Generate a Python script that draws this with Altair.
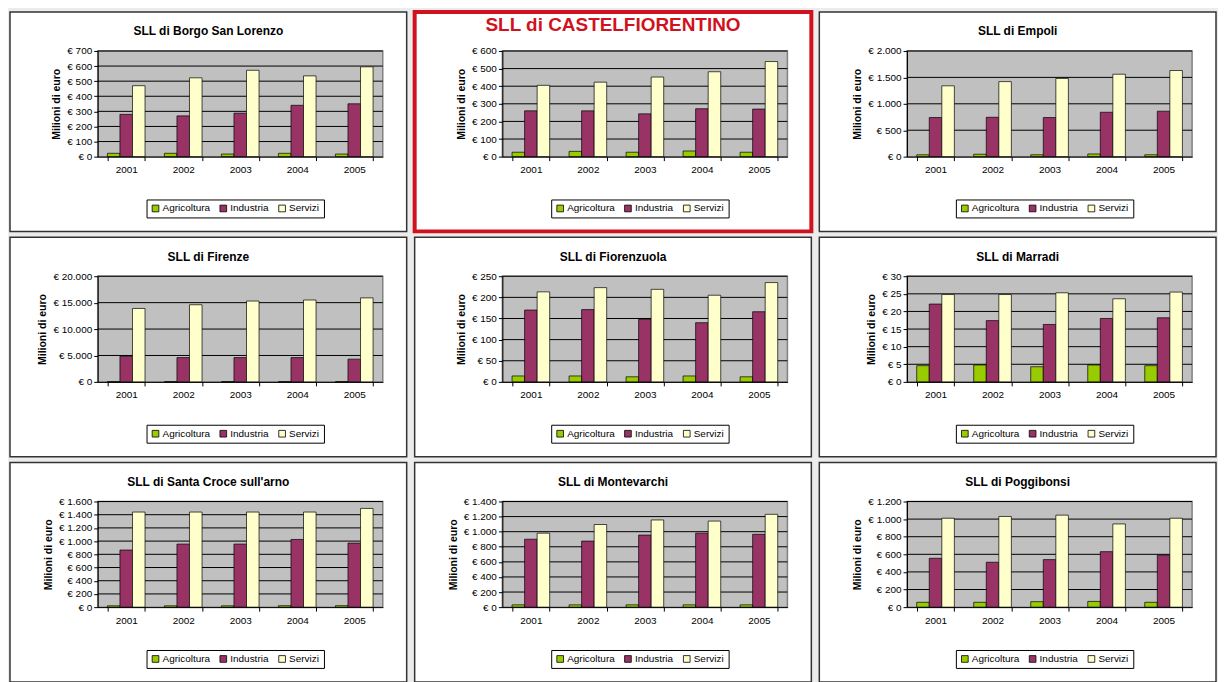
import altair as alt
import pandas as pd

years = ["2001", "2002", "2003", "2004", "2005"]
series = ["Agricoltura", "Industria", "Servizi"]
colors = ["#99cc00", "#993366", "#ffffcc"]

borgo_agri = [22, 22, 17, 22, 17]
borgo_ind = [280, 270, 288, 340, 350]
borgo_serv = [470, 522, 572, 535, 595]
borgo_ticks = [0, 100, 200, 300, 400, 500, 600, 700]

castel_agri = [25, 30, 25, 32, 25]
castel_ind = [260, 260, 243, 272, 270]
castel_serv = [405, 423, 452, 482, 540]
castel_ticks = [0, 100, 200, 300, 400, 500, 600]

empoli_agri = [35, 45, 35, 50, 35]
empoli_ind = [740, 745, 740, 840, 860]
empoli_serv = [1340, 1420, 1480, 1560, 1630]
empoli_ticks = [0, 500, 1000, 1500, 2000]

firenze_agri = [50, 50, 50, 50, 50]
firenze_ind = [4850, 4600, 4600, 4600, 4300]
firenze_serv = [13900, 14600, 15300, 15500, 15900]
firenze_ticks = [0, 5000, 10000, 15000, 20000]

fiorenzuola_agri = [14, 14, 12, 14, 12]
fiorenzuola_ind = [170, 171, 148, 140, 166]
fiorenzuola_serv = [213, 223, 219, 205, 235]
fiorenzuola_ticks = [0, 50, 100, 150, 200, 250]

marradi_agri = [4.6, 4.8, 4.3, 4.8, 4.6]
marradi_ind = [22.1, 17.4, 16.3, 18.0, 18.2]
marradi_serv = [24.8, 24.8, 25.3, 23.6, 25.5]
marradi_ticks = [0, 5, 10, 15, 20, 25, 30]

santacroce_agri = [20, 20, 20, 22, 22]
santacroce_ind = [865, 955, 955, 1025, 970]
santacroce_serv = [1440, 1440, 1440, 1440, 1495]
santacroce_ticks = [0, 200, 400, 600, 800, 1000, 1200, 1400, 1600]

montevarchi_agri = [30, 30, 30, 30, 30]
montevarchi_ind = [900, 875, 955, 980, 965]
montevarchi_serv = [980, 1095, 1155, 1140, 1230]
montevarchi_ticks = [0, 200, 400, 600, 800, 1000, 1200, 1400]

poggibonsi_agri = [55, 55, 62, 65, 55]
poggibonsi_ind = [555, 510, 540, 630, 590]
poggibonsi_serv = [1010, 1030, 1045, 945, 1010]
poggibonsi_ticks = [0, 200, 400, 600, 800, 1000, 1200]

titles = [
    "SLL di Borgo San Lorenzo", "SLL di CASTELFIORENTINO", "SLL di Empoli",
    "SLL di Firenze", "SLL di Fiorenzuola", "SLL di Marradi",
    "SLL di Santa Croce sull'arno", "SLL di  Montevarchi", "SLL di Poggibonsi",
]

FONT = "Liberation Sans, Arial, sans-serif"
W, H = 286, 106
L, R, T, B = 88, 24, 39, 75


def panel(title, agri, ind, serv, ticks, highlight=False):
    df = pd.DataFrame({
        "Anno": years * 3,
        "Settore": [s for s in series for _ in years],
        "Valore": agri + ind + serv,
    })
    tdf = pd.DataFrame({"v": ticks[1:]})
    one = pd.DataFrame({"k": [0]})
    yscale = alt.Scale(domain=[ticks[0], ticks[-1]], nice=False, zero=True)
    yaxis = alt.Axis(
        values=ticks, grid=False, zindex=1, domainColor="black", tickColor="black",
        tickSize=4, labelFont=FONT, labelFontSize=10, labelColor="black", labelPadding=2,
        labelExpr="'€ ' + replace(format(datum.value, ','), regexp(',', 'g'), '.')",
        title="Milioni di euro", titleFont=FONT, titleFontSize=10.5, titleFontWeight="bold",
        titleColor="black", titlePadding=5,
    )
    box = alt.Chart(one).mark_rect(
        fill="white",
        stroke="#d0121e" if highlight else "#333333",
        strokeWidth=4 if highlight else 1.5,
    ).encode(x=alt.value(-L), x2=alt.value(W + R), y=alt.value(-T), y2=alt.value(H + B))
    bg = alt.Chart(one).mark_rect(fill="#c0c0c0", stroke="#808080", strokeWidth=1.5).encode(
        x=alt.value(0), x2=alt.value(W), y=alt.value(0), y2=alt.value(H))
    grid = alt.Chart(tdf).mark_rule(color="black", strokeWidth=1).encode(
        y=alt.Y("v:Q", scale=yscale, axis=yaxis), x=alt.value(0), x2=alt.value(W))
    bars = alt.Chart(df).mark_bar(stroke="black", strokeWidth=0.7).encode(
        x=alt.X("Anno:N", sort=years, scale=alt.Scale(paddingInner=0.34, paddingOuter=0.17),
                axis=alt.Axis(title=None, labelAngle=0, tickBand="extent", zindex=1,
                              domainColor="black", tickColor="black", tickSize=4,
                              labelFont=FONT, labelFontSize=10, labelColor="black",
                              labelPadding=4)),
        xOffset=alt.XOffset("Settore:N", sort=series,
                            scale=alt.Scale(domain=series, paddingInner=0, paddingOuter=0)),
        y=alt.Y("Valore:Q", scale=yscale, axis=yaxis),
        color=alt.Color("Settore:N", scale=alt.Scale(domain=series, range=colors),
                        legend=alt.Legend(
                            orient="none", legendX=49, legendY=149, direction="horizontal",
                            title=None, strokeColor="black", fillColor="white", padding=4,
                            symbolType="square", symbolSize=45, symbolStrokeColor="black",
                            symbolStrokeWidth=0.8, symbolOpacity=1, labelFont=FONT,
                            labelFontSize=10, labelColor="black", columnPadding=8,
                            labelOffset=2)),
    )
    if highlight:
        tp = alt.TitleParams(text=title, font=FONT, fontSize=19, fontWeight="bold",
                             color="#d0121e", anchor="middle", offset=-25, dx=-32)
    else:
        tp = alt.TitleParams(text=title, font=FONT, fontSize=12, fontWeight="bold",
                             color="black", anchor="middle", offset=-27, dx=-32)
    return alt.layer(box, bg, grid, bars).properties(width=W, height=H, title=tp)


panels = [
    panel(titles[0], borgo_agri, borgo_ind, borgo_serv, borgo_ticks),
    panel(titles[1], castel_agri, castel_ind, castel_serv, castel_ticks, highlight=True),
    panel(titles[2], empoli_agri, empoli_ind, empoli_serv, empoli_ticks),
    panel(titles[3], firenze_agri, firenze_ind, firenze_serv, firenze_ticks),
    panel(titles[4], fiorenzuola_agri, fiorenzuola_ind, fiorenzuola_serv, fiorenzuola_ticks),
    panel(titles[5], marradi_agri, marradi_ind, marradi_serv, marradi_ticks),
    panel(titles[6], santacroce_agri, santacroce_ind, santacroce_serv, santacroce_ticks),
    panel(titles[7], montevarchi_agri, montevarchi_ind, montevarchi_serv, montevarchi_ticks),
    panel(titles[8], poggibonsi_agri, poggibonsi_ind, poggibonsi_serv, poggibonsi_ticks),
]

chart = alt.concat(
    *panels, columns=3, spacing={"row": 120, "column": 120}, bounds="flush"
).resolve_scale(
    x="independent", y="independent", color="independent", xOffset="independent"
).resolve_legend(color="independent").properties(padding=0).configure(
    background="#ececec", font=FONT
).configure_view(stroke="transparent")

chart.save("out.html", embed_options={"renderer": "svg", "actions": False})
